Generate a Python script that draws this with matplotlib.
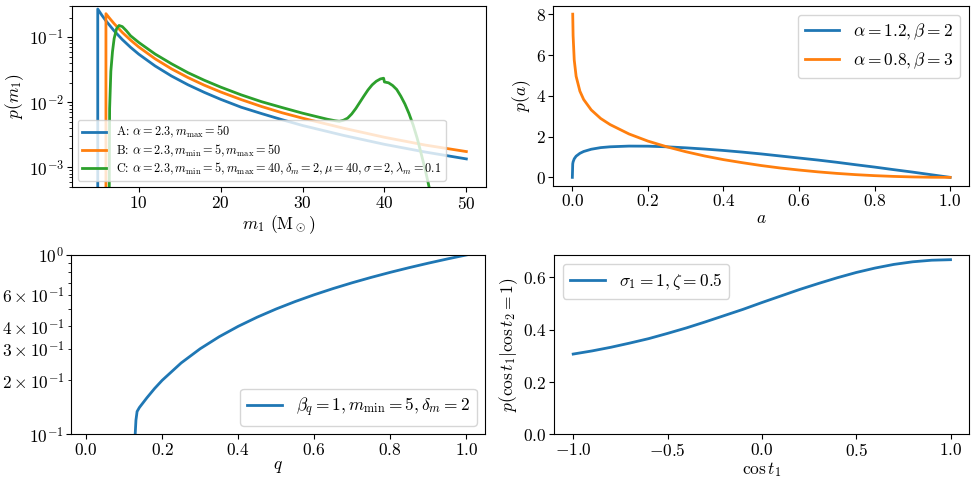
import matplotlib
matplotlib.use('Agg')
import matplotlib.pyplot as plt

plt.rcParams['font.family'] = 'serif'
plt.rcParams['font.serif'] = ['cmr10']
plt.rcParams['mathtext.fontset'] = 'cm'
plt.rcParams['axes.formatter.use_mathtext'] = True
plt.rcParams['axes.unicode_minus'] = False

# --- primary mass (log y) ---
m_A = [5.0, 5.0, 5.5, 6, 7, 8, 9, 10, 12, 14, 16, 18, 20, 22.5, 25, 27.5, 30, 35, 40, 45, 50]
p_A = [1e-5, 0.27, 0.217, 0.178, 0.125, 0.0917, 0.0699, 0.0548, 0.0361, 0.0253, 0.0186,
       0.0142, 0.0111, 0.0084, 0.0067, 0.0054, 0.0044, 0.0031, 0.00226, 0.00172, 0.00135]

m_B = [6.0, 6.0, 6.5, 7, 8, 9, 10, 12, 14, 16, 18, 20, 22.5, 25, 27.5, 30, 35, 40, 45, 50]
p_B = [1e-5, 0.229, 0.191, 0.161, 0.118, 0.0902, 0.0707, 0.0465, 0.0326, 0.024, 0.0183,
       0.0144, 0.0110, 0.0086, 0.0069, 0.0057, 0.0040, 0.0029, 0.0022, 0.00175]

m_C = [6.35, 6.45, 6.6, 6.8, 7.0, 7.3, 7.6, 8.0, 8.5, 9, 10, 12, 14, 16, 18, 20, 22.5, 25,
       27.5, 30, 32, 33, 34, 34.5, 35, 35.5, 36, 36.5, 37, 37.5, 38, 38.5, 39, 39.5, 39.9,
       40.0, 40.5, 41, 41.5, 42, 42.5, 43, 43.5, 44, 44.5, 45, 45.5, 46]
p_C = [1e-5, 0.008, 0.03, 0.06, 0.095, 0.135, 0.151, 0.145, 0.125, 0.105, 0.083, 0.055,
       0.039, 0.0285, 0.0218, 0.0171, 0.0130, 0.0102, 0.0083, 0.0068, 0.0059, 0.0055,
       0.0052, 0.0051, 0.0053, 0.0057, 0.0066, 0.0080, 0.0100, 0.0125, 0.0155, 0.0185,
       0.021, 0.0228, 0.0234, 0.0205, 0.0199, 0.0181, 0.0157, 0.0124, 0.0094, 0.0067,
       0.0045, 0.0028, 0.0016, 0.0009, 0.00047, 0.00023]

# --- spin magnitude ---
a_vals = [0, 0.001, 0.002, 0.005, 0.01, 0.02, 0.03, 0.05, 0.075, 0.1, 0.15, 0.2, 0.25, 0.3,
          0.35, 0.4, 0.45, 0.5, 0.55, 0.6, 0.65, 0.7, 0.75, 0.8, 0.85, 0.9, 0.95, 1.0]
p_a1 = [0, 0.66, 0.76, 0.91, 1.04, 1.18, 1.27, 1.38, 1.46, 1.50, 1.535, 1.53, 1.50, 1.45,
        1.39, 1.32, 1.24, 1.15, 1.05, 0.95, 0.85, 0.74, 0.62, 0.505, 0.38, 0.26, 0.13, 0.0]
a_vals2 = a_vals[1:]
p_a2 = [8.01, 6.96, 5.76, 4.96, 4.23, 3.82, 3.31, 2.89, 2.59, 2.13, 1.78, 1.50, 1.26, 1.05,
        0.87, 0.72, 0.58, 0.46, 0.36, 0.27, 0.195, 0.133, 0.084, 0.047, 0.021, 0.005, 0.0]

# --- mass ratio (log y) ---
q_vals = [0.128, 0.129, 0.131, 0.134, 0.14, 0.16, 0.18, 0.2, 0.25, 0.3, 0.35, 0.4, 0.45, 0.5,
          0.55, 0.6, 0.65, 0.7, 0.75, 0.8, 0.85, 0.9, 0.95, 1.0]
p_q = [1e-3, 0.1, 0.12, 0.134, 0.141, 0.16, 0.18, 0.2, 0.25, 0.3, 0.35, 0.4, 0.45, 0.5,
       0.55, 0.6, 0.65, 0.7, 0.75, 0.8, 0.85, 0.9, 0.95, 1.0]

# --- spin tilt ---
cost = [-1.0, -0.9, -0.8, -0.7, -0.6, -0.5, -0.4, -0.3, -0.2, -0.1, 0.0, 0.1, 0.2, 0.3, 0.4,
        0.5, 0.6, 0.7, 0.8, 0.9, 1.0]
p_t = [0.307, 0.319, 0.333, 0.349, 0.366, 0.386, 0.407, 0.430, 0.454, 0.478, 0.504, 0.529,
       0.554, 0.577, 0.599, 0.619, 0.636, 0.650, 0.660, 0.666, 0.668]

fig = plt.figure(figsize=(9.72, 4.8), dpi=100)
ax1 = fig.add_axes([0.0736, 0.6104, 0.4264, 0.377])
ax2 = fig.add_axes([0.5694, 0.6135, 0.4275, 0.374])
ax3 = fig.add_axes([0.0730, 0.0952, 0.4262, 0.3736])
ax4 = fig.add_axes([0.5703, 0.0952, 0.4270, 0.3736])

lw = 2
tick_fs = 12.5
lab_fs = 12.5
leg_fs = 12.5

ax1.plot(m_A, p_A, lw=lw, color='C0', label=r'A: $\alpha=2.3, m_\mathrm{max}=50$')
ax1.plot(m_B, p_B, lw=lw, color='C1', label=r'B: $\alpha=2.3, m_\mathrm{min}=5, m_\mathrm{max}=50$')
ax1.plot(m_C, p_C, lw=lw, color='C2',
         label=r'C: $\alpha=2.3, m_\mathrm{min}=5, m_\mathrm{max}=40, \delta_m=2, \mu=40, \sigma=2, \lambda_m=0.1$')
ax1.set_yscale('log')
ax1.set_xlim(1.8, 52.4)
ax1.set_ylim(5e-4, 0.3)
ax1.set_xlabel(r'$m_1$ ($\mathrm{M}_\odot$)', fontsize=lab_fs, labelpad=1)
ax1.set_ylabel(r'$p(m_1)$', fontsize=lab_fs, labelpad=2)
ax1.legend(loc='lower left', fontsize=8.8, labelspacing=0.15, borderpad=0.35)

ax2.plot(a_vals, p_a1, lw=lw, color='C0', label=r'$\alpha=1.2, \beta=2$')
ax2.plot(a_vals2, p_a2, lw=lw, color='C1', label=r'$\alpha=0.8, \beta=3$')
ax2.set_yticks([0, 2, 4, 6, 8])
ax2.set_xlabel(r'$a$', fontsize=lab_fs, labelpad=1)
ax2.set_ylabel(r'$p(a)$', fontsize=lab_fs, labelpad=2)
ax2.legend(loc='upper right', fontsize=leg_fs)

ax3.plot(q_vals, p_q, lw=lw, color='C0', label=r'$\beta_q=1, m_\mathrm{min}=5, \delta_m=2$')
ax3.set_yscale('log')
ax3.set_xlim(-0.04, 1.05)
ax3.set_ylim(0.1, 1.0)
ax3.set_xlabel(r'$q$', fontsize=lab_fs, labelpad=1)
ax3.set_ylabel(r'$p(q)$', fontsize=lab_fs, labelpad=2)
ax3.legend(loc='lower right', fontsize=leg_fs)

ax4.plot(cost, p_t, lw=lw, color='C0', label=r'$\sigma_1=1, \zeta=0.5$')
ax4.set_ylim(bottom=0)
ax4.set_xlabel(r'$\cos t_1$', fontsize=lab_fs, labelpad=1)
ax4.set_ylabel(r'$p(\cos t_1|\cos t_2=1)$', fontsize=lab_fs, labelpad=2)
ax4.legend(loc='upper left', fontsize=leg_fs)

for ax in (ax1, ax2, ax3, ax4):
    ax.tick_params(which='both', labelsize=tick_fs, pad=2)
    ax.tick_params(which='major', length=3.5)
    ax.tick_params(which='minor', length=2)

plt.savefig('out.png', dpi=100)
